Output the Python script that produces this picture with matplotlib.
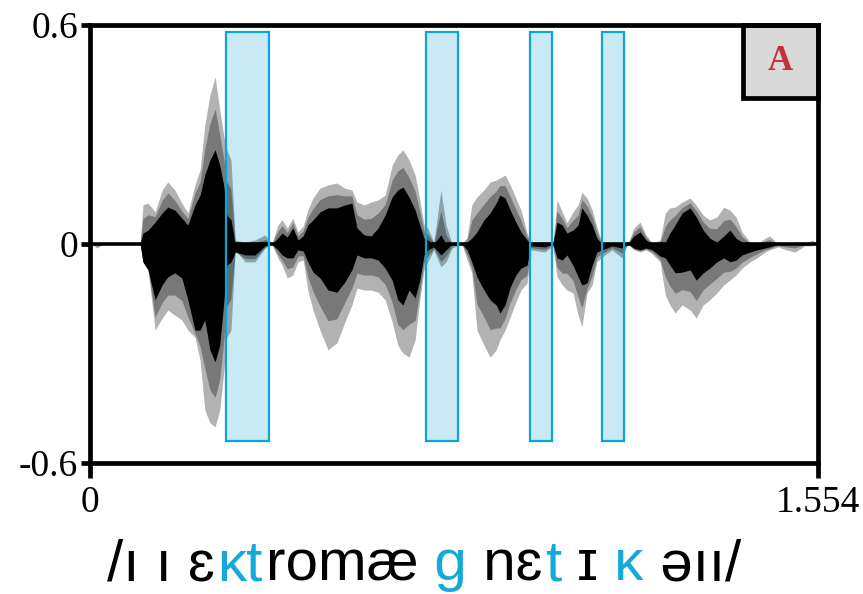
import matplotlib
matplotlib.use('Agg')
import matplotlib.pyplot as plt
from matplotlib.patches import Rectangle

# ---------------- data ----------------
# time (s)
t = [0.004, 0.015, 0.028, 0.107, 0.113, 0.124, 0.139, 0.154, 0.166, 0.181,
     0.196, 0.209, 0.224, 0.235, 0.245, 0.256, 0.267, 0.277, 0.286, 0.292,
     0.301, 0.310, 0.331, 0.352, 0.374, 0.388, 0.401, 0.410, 0.421, 0.433,
     0.444, 0.455, 0.465, 0.476, 0.491, 0.508, 0.527, 0.544, 0.559, 0.570,
     0.585, 0.600, 0.615, 0.630, 0.645, 0.657, 0.668, 0.681, 0.694, 0.704,
     0.713, 0.721, 0.734, 0.749, 0.760, 0.773, 0.794, 0.805, 0.815, 0.826,
     0.841, 0.854, 0.867, 0.875, 0.886, 0.897, 0.909, 0.920, 0.933, 0.941,
     0.971, 0.988, 0.997, 1.008, 1.018, 1.031, 1.042, 1.050, 1.061, 1.072,
     1.082, 1.093, 1.114, 1.136, 1.148, 1.161, 1.174, 1.187, 1.200, 1.217,
     1.228, 1.238, 1.249, 1.264, 1.281, 1.294, 1.309, 1.323, 1.338, 1.353,
     1.366, 1.379, 1.392, 1.409, 1.424, 1.441, 1.451, 1.469, 1.486, 1.505,
     1.526, 1.541, 1.554]

# outer (light grey) envelope
outer_hi = [0, 0.005, 0, 0, 0.107, 0.112, 0.088, 0.148, 0.170, 0.148,
            0.112, 0.085, 0.162, 0.203, 0.326, 0.408, 0.458, 0.367, 0.293, 0.258,
            0.230, 0.011, 0.005, 0.011, 0.025, 0, 0.052, 0.066, 0.044, 0.071,
            0.033, 0.049, 0.093, 0.126, 0.153, 0.162, 0.167, 0.153, 0.148, 0.115,
            0.107, 0.115, 0.121, 0.134, 0.216, 0.244, 0.258, 0.230, 0.189, 0.121,
            0.052, 0.044, 0.005, 0.148, 0.052, 0, 0, 0.019, 0.107, 0.129,
            0.148, 0.170, 0.175, 0.181, 0.189, 0.162, 0.126, 0.093, 0.030, 0.005,
            0.005, 0, 0.121, 0.088, 0.058, 0.088, 0.107, 0.142, 0.126, 0.093,
            0.047, 0.003, 0, 0.003, 0, 0.044, 0.060, 0.025, 0.003, 0.011,
            0.085, 0.099, 0.101, 0.115, 0.126, 0.107, 0.079, 0.066, 0.074, 0.101,
            0.093, 0.074, 0.033, 0.005, 0, 0.016, 0.022, 0, 0.003, 0,
            0, 0.011, 0]
outer_lo = [0, -0.011, 0, 0, -0.049, -0.071, -0.236, -0.203, -0.181, -0.195,
            -0.208, -0.236, -0.255, -0.318, -0.455, -0.490, -0.501, -0.455, -0.345, -0.255,
            -0.236, -0.016, -0.049, -0.049, -0.011, 0, -0.038, -0.058, -0.093, -0.085,
            -0.049, -0.044, -0.126, -0.181, -0.236, -0.290, -0.271, -0.214, -0.167, -0.121,
            -0.126, -0.126, -0.132, -0.153, -0.214, -0.277, -0.299, -0.310, -0.263, -0.153,
            -0.071, -0.049, -0.016, -0.063, -0.049, -0.011, 0, -0.044, -0.079, -0.236,
            -0.277, -0.310, -0.290, -0.263, -0.236, -0.200, -0.159, -0.126, -0.107, -0.016,
            -0.022, -0.005, -0.090, -0.112, -0.126, -0.134, -0.195, -0.227, -0.134, -0.112,
            -0.049, -0.036, -0.016, -0.038, 0, -0.016, -0.022, -0.016, -0.027, -0.049,
            -0.140, -0.167, -0.189, -0.167, -0.181, -0.203, -0.167, -0.153, -0.134, -0.112,
            -0.099, -0.085, -0.066, -0.049, -0.038, -0.022, -0.016, -0.008, -0.016, -0.022,
            -0.005, -0.005, 0]

# middle (dark grey) envelope
mid_hi = [0, 0.002, 0, 0, 0.07, 0.08, 0.075, 0.12, 0.14, 0.12,
          0.09, 0.07, 0.14, 0.17, 0.26, 0.33, 0.37, 0.30, 0.23, 0.17,
          0.15, 0.005, 0.002, 0.005, 0.012, 0, 0.035, 0.05, 0.032, 0.058,
          0.022, 0.036, 0.073, 0.097, 0.122, 0.132, 0.135, 0.132, 0.132, 0.08,
          0.068, 0.07, 0.085, 0.108, 0.175, 0.2, 0.21, 0.182, 0.145, 0.09,
          0.035, 0.028, 0.002, 0.09, 0.025, 0, 0, 0.012, 0.065, 0.085,
          0.11, 0.13, 0.145, 0.16, 0.16, 0.13, 0.095, 0.065, 0.02, 0.002,
          0.002, 0, 0.09, 0.07, 0.045, 0.065, 0.08, 0.122, 0.105, 0.075,
          0.032, 0.001, 0, 0.001, 0, 0.033, 0.048, 0.018, 0.001, 0.005,
          0.048, 0.066, 0.078, 0.1, 0.113, 0.092, 0.06, 0.043, 0.042, 0.064,
          0.068, 0.048, 0.02, 0.002, 0, 0.008, 0.012, 0, 0.001, 0,
          0, 0.005, 0]
mid_lo = [0, -0.006, 0, 0, -0.049, -0.071, -0.2, -0.16, -0.14, -0.14,
          -0.155, -0.2, -0.245, -0.28, -0.34, -0.40, -0.42, -0.37, -0.26, -0.17,
          -0.15, -0.02, -0.04, -0.04, -0.008, 0, -0.028, -0.045, -0.068, -0.063,
          -0.033, -0.032, -0.09, -0.13, -0.17, -0.21, -0.205, -0.16, -0.12, -0.08,
          -0.085, -0.085, -0.09, -0.11, -0.16, -0.22, -0.235, -0.22, -0.21, -0.13,
          -0.05, -0.033, -0.012, -0.048, -0.033, -0.005, 0, -0.03, -0.065, -0.165,
          -0.2, -0.235, -0.23, -0.23, -0.205, -0.16, -0.125, -0.098, -0.085, -0.01,
          -0.015, -0.002, -0.065, -0.08, -0.08, -0.1, -0.145, -0.175, -0.122, -0.087,
          -0.036, -0.026, -0.01, -0.025, 0, -0.014, -0.019, -0.014, -0.022, -0.042,
          -0.09, -0.115, -0.135, -0.125, -0.13, -0.155, -0.125, -0.11, -0.094, -0.077,
          -0.075, -0.066, -0.05, -0.036, -0.027, -0.016, -0.012, -0.004, -0.008, -0.011,
          -0.002, -0.002, 0]

# core (black) envelope
core_hi = [0, 0, 0, 0, 0.030, 0.038, 0.060, 0.085, 0.101, 0.093,
           0.071, 0.052, 0.107, 0.134, 0.189, 0.230, 0.258, 0.216, 0.156, 0.079,
           0.066, 0, 0, 0, 0, 0, 0.016, 0.030, 0.019, 0.044,
           0.011, 0.022, 0.052, 0.066, 0.088, 0.099, 0.099, 0.107, 0.112, 0.044,
           0.025, 0.022, 0.044, 0.079, 0.129, 0.148, 0.156, 0.129, 0.093, 0.052,
           0.016, 0.011, 0, 0.025, 0, 0, 0, 0.005, 0.016, 0.033,
           0.066, 0.085, 0.112, 0.134, 0.126, 0.093, 0.060, 0.033, 0.011, 0,
           0, 0, 0.060, 0.052, 0.030, 0.038, 0.052, 0.099, 0.079, 0.052,
           0.016, 0, 0, 0, 0, 0.022, 0.033, 0.011, 0, 0,
           0.005, 0.030, 0.052, 0.085, 0.099, 0.074, 0.038, 0.016, 0.005, 0.022,
           0.038, 0.016, 0.005, 0, 0, 0, 0, 0, 0, 0,
           0, 0, 0]
core_lo = [0, 0, 0, 0, -0.049, -0.071, -0.153, -0.112, -0.090, -0.079,
           -0.093, -0.153, -0.236, -0.236, -0.208, -0.290, -0.323, -0.277, -0.153, -0.058,
           -0.049, -0.022, -0.030, -0.030, -0.005, 0, -0.016, -0.030, -0.038, -0.038,
           -0.016, -0.019, -0.049, -0.077, -0.093, -0.126, -0.132, -0.104, -0.071, -0.030,
           -0.038, -0.038, -0.044, -0.066, -0.099, -0.153, -0.167, -0.126, -0.148, -0.099,
           -0.030, -0.016, -0.008, -0.030, -0.016, 0, 0, -0.016, -0.049, -0.090,
           -0.126, -0.153, -0.167, -0.189, -0.167, -0.118, -0.085, -0.066, -0.058, -0.005,
           -0.008, 0, -0.038, -0.044, -0.030, -0.058, -0.090, -0.112, -0.107, -0.058,
           -0.022, -0.016, -0.005, -0.011, 0, -0.011, -0.016, -0.011, -0.016, -0.033,
           -0.038, -0.058, -0.079, -0.077, -0.071, -0.099, -0.079, -0.066, -0.049, -0.038,
           -0.049, -0.044, -0.030, -0.022, -0.016, -0.011, -0.008, 0, 0, 0,
           0, 0, 0]

# highlighted consonant intervals (s)
box_start = [0.290, 0.717, 0.939, 1.093]
box_end = [0.382, 0.786, 0.986, 1.140]
box_bottom, box_top = -0.54, 0.58

yticks = [-0.6, 0, 0.6]
yticklabels = ['-0.6', '0', '0.6']
xticks = [0, 1.554]
xticklabels = ['0', '1.554']

panel_label = 'A'
# transcription pieces: (text, highlighted?)
transcription = [('/ı ı ɛ', False), ('ᴋt', True), ('romæ', False), (' g', True),
                 (' nɛ', False), ('t', True), (' ɪ', False), (' ᴋ', True),
                 (' əıı/', False)]

# ---------------- styles ----------------
BOX_FILL = '#c9eaf4'
BOX_EDGE = '#0aa6d9'
HILITE = '#14a9d8'
SPINE_W = 3.4
TICK_FONT = 'Liberation Serif'

fig = plt.figure(figsize=(8.63, 5.94), dpi=100)
ax = fig.add_axes([90 / 863, 131 / 594, 728 / 863, 438 / 594])
ax.set_xlim(0, 1.554)
ax.set_ylim(-0.6, 0.6)

for s, e in zip(box_start, box_end):
    ax.add_patch(Rectangle((s, box_bottom), e - s, box_top - box_bottom,
                           facecolor=BOX_FILL, edgecolor='none', zorder=1))

ax.fill_between(t, outer_lo, outer_hi, color='black', alpha=0.3, lw=0, zorder=2)
ax.fill_between(t, mid_lo, mid_hi, color='black', alpha=0.32, lw=0, zorder=2.1)
ax.fill_between(t, core_lo, core_hi, color='black', lw=0, zorder=2.2)
ax.axhline(0, color='black', lw=2.6, zorder=2.5)

for s, e in zip(box_start, box_end):
    ax.add_patch(Rectangle((s, box_bottom), e - s, box_top - box_bottom,
                           facecolor='none', edgecolor=BOX_EDGE, lw=1.6, zorder=3))

for sp in ax.spines.values():
    sp.set_linewidth(SPINE_W)
    sp.set_color('black')
    sp.set_capstyle('projecting')
    sp.set_zorder(6)

ax.set_yticks(yticks)
ax.set_yticklabels(yticklabels)
ax.set_xticks(xticks)
ax.set_xticklabels(xticklabels)
ax.tick_params(axis='y', direction='out', length=6.5, width=SPINE_W, pad=2, labelsize=27)
ax.tick_params(axis='x', direction='out', length=11, width=SPINE_W, pad=5, labelsize=27)
for lbl in ax.get_xticklabels() + ax.get_yticklabels():
    lbl.set_fontfamily(TICK_FONT)

# panel label box
ax.add_patch(Rectangle((0.897, 0.833), 0.103, 0.167, transform=ax.transAxes,
                       facecolor='#d9d9d9', edgecolor='black', lw=SPINE_W,
                       zorder=5, clip_on=False))
ax.text(0.9485, 0.9165, panel_label, transform=ax.transAxes, ha='center', va='center',
        fontsize=25, fontweight='bold', family='Liberation Serif', color='#c62f3c', zorder=7)

# multi-coloured transcription
fam = ['Liberation Sans', 'DejaVu Sans']
prev = None
for txt, hl in transcription:
    col = HILITE if hl else 'black'
    if prev is None:
        prev = fig.text(107 / 863, 0.003, txt, ha='left', va='bottom', fontsize=42,
                        family=fam, color=col)
    else:
        off = 0 if txt.startswith(' ') else 2
        prev = ax.annotate(
            txt, xy=(1, 0), xycoords=prev, xytext=(off, 0), textcoords='offset points',
            ha='left', va='bottom', fontsize=42, family=fam, color=col,
            annotation_clip=False)

fig.savefig('out.png', dpi=100)
